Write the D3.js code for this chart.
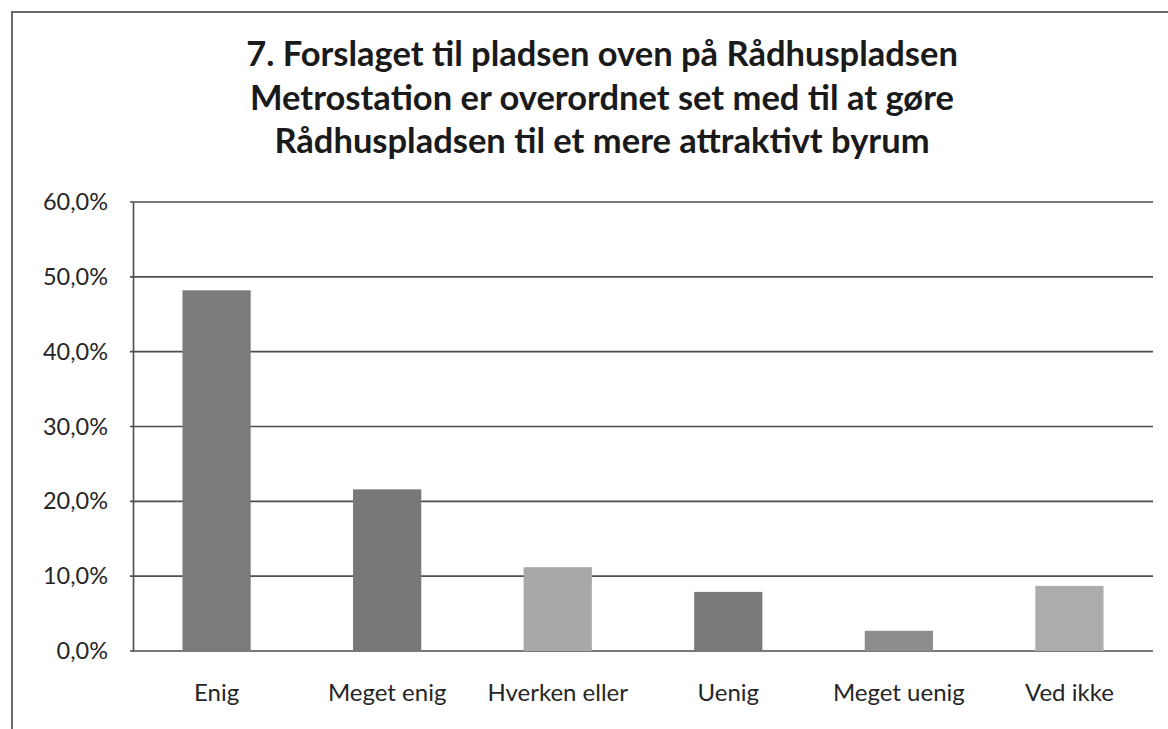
<!DOCTYPE html>
<html>
<head>
<meta charset="utf-8">
<script src="https://cdn.jsdelivr.net/npm/d3@7"></script>
<style>
  body { margin: 0; background: #fff; }
  svg { display: block; }
  text { font-family: Lato, "Open Sans", sans-serif; fill: #262626; }
</style>
</head>
<body>
<svg id="chart" width="1168" height="729"></svg>
<script>
// data
const categories = ["Enig", "Meget enig", "Hverken eller", "Uenig", "Meget uenig", "Ved ikke"];
const shares = [0.482, 0.216, 0.112, 0.079, 0.027, 0.087];
const barColors = ["#7b7b7b", "#787878", "#a8a8a8", "#7a7a7a", "#8d8d8d", "#acacac"];
const yTicks = [0, 0.1, 0.2, 0.3, 0.4, 0.5, 0.6];
const titleLines = [
    "7. Forslaget til pladsen oven på Rådhuspladsen",
    "Metrostation er overordnet set med til at gøre",
    "Rådhuspladsen til et mere attraktivt byrum"
];

const svg = d3.select("#chart");

// danish number format, comma as decimal mark
const da = d3.formatLocale({decimal: ",", thousands: ".", grouping: [3], currency: ["", " kr."]});
const pct = da.format(".1%");

const plotLeft = 133, plotRight = 1153, plotTop = 202, plotBottom = 651;

const x = d3.scaleBand()
    .domain(categories)
    .range([plotLeft, plotRight])
    .paddingInner(0.6)
    .paddingOuter(0.29);

const y = d3.scaleLinear()
    .domain([0, 0.6])
    .range([plotBottom, plotTop]);

// outer frame (only left and top survive in the scan)
svg.append("path")
    .attr("d", "M12,729 L12,12 L1168,12")
    .attr("fill", "none")
    .attr("stroke", "#6a6a6a")
    .attr("stroke-width", 2);

// title
svg.append("g")
    .attr("class", "title")
    .selectAll("text")
    .data(titleLines)
    .join("text")
    .attr("x", 602)
    .attr("y", (d, i) => 66 + i * 43.5)
    .attr("text-anchor", "middle")
    .style("font-size", "34.5px")
    .style("font-weight", "bold")
    .style("fill", "#1a1a1a")
    .text(d => d);

// gridlines
svg.append("g")
    .attr("class", "grid")
    .selectAll("line")
    .data(yTicks)
    .join("line")
    .attr("x1", plotLeft - 3)
    .attr("x2", plotRight)
    .attr("y1", d => y(d))
    .attr("y2", d => y(d))
    .attr("stroke", "#4d4d4d")
    .attr("stroke-width", 1.6);

// y axis
const yAxis = d3.axisLeft(y)
    .tickValues(yTicks)
    .tickFormat(pct)
    .tickSize(0)
    .tickPadding(25);

const gy = svg.append("g")
    .attr("transform", "translate(" + plotLeft + ",0)")
    .call(yAxis);
gy.select(".domain")
    .attr("stroke", "#4d4d4d")
    .attr("stroke-width", 1.6);
gy.selectAll("text")
    .style("font-size", "23.5px")
    .style("font-family", "Lato, sans-serif")
    .attr("fill", "#2a2a2a");

// bars
svg.append("g")
    .attr("class", "bars")
    .selectAll("rect")
    .data(categories)
    .join("rect")
    .attr("x", d => x(d))
    .attr("width", x.bandwidth())
    .attr("y", (d, i) => y(shares[i]))
    .attr("height", (d, i) => y(0) - y(shares[i]))
    .attr("fill", (d, i) => barColors[i]);

// x axis, labels only
const xAxis = d3.axisBottom(x)
    .tickSize(0)
    .tickPadding(33);

const gx = svg.append("g")
    .attr("transform", "translate(0," + plotBottom + ")")
    .call(xAxis);
gx.select(".domain").remove();
gx.selectAll("text")
    .style("font-size", "24px")
    .style("font-family", "Lato, sans-serif")
    .attr("fill", "#2a2a2a");
</script>
</body>
</html>
